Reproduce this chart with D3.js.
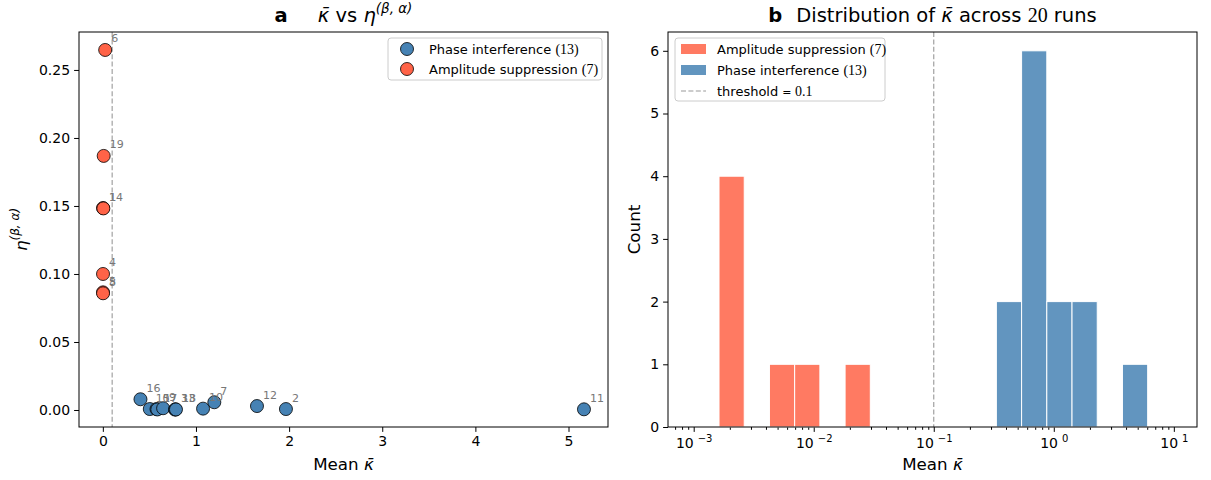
<!DOCTYPE html>
<html>
<head>
<meta charset="utf-8">
<script src="https://cdn.jsdelivr.net/npm/d3@7"></script>
<style>
body { margin: 0; background: #fff; }
text { font-family: "DejaVu Sans", sans-serif; }
</style>
</head>
<body>
<script>
// runs classed as phase interference
const phaseRuns = [16, 15, 0, 17, 9, 3, 13, 18, 10, 7, 12, 2, 11];
const phaseKappa = [0.404, 0.504, 0.576, 0.585, 0.647, 0.775, 0.779, 0.785, 1.076, 1.197, 1.655, 1.966, 5.166];
const phaseEta = [0.0079, 0.0007, 0.0007, 0.0004, 0.0013, 0.0003, 0.0005, 0.0004, 0.001, 0.0057, 0.0029, 0.0007, 0.0005];

// runs classed as amplitude suppression
const amplRuns = [6, 19, 14, 1, 4, 5, 8];
const amplKappa = [0.025, 0.009, 0.0021, 0.0055, 0.0019, 0.0017, 0.0023];
const amplEta = [0.2647, 0.1868, 0.1485, 0.1482, 0.1, 0.0865, 0.0858];

const threshold = 0.1;
const xTicksA = [0, 1, 2, 3, 4, 5];
const yTicksA = [0, 0.05, 0.1, 0.15, 0.2, 0.25];
const yTicksB = [0, 1, 2, 3, 4, 5, 6];
const decadesB = [-3, -2, -1, 0, 1];
// log-spaced histogram bins
const binLogMin = -2.789, binLogMax = 0.782, binCount = 17;

const blue = '#4682b4', red = '#ff6347';
const serif = '"Liberation Serif", serif';

const svg = d3.select('body').append('svg')
	.attr('width', 1211)
	.attr('height', 480);

const pA = {l: 79, r: 608, t: 32, b: 427};
const pB = {l: 668, r: 1197, t: 32, b: 427};

// ---------- panel a ----------
const xA = d3.scaleLinear().domain([-0.256, 5.424]).range([pA.l, pA.r]);
const yA = d3.scaleLinear().domain([-0.0125, 0.2779]).range([pA.b, pA.t]);

const gA = svg.append('g');

function styleAxis(g) {
	g.select('.domain').remove();
	g.selectAll('.tick line').attr('stroke', '#000').attr('stroke-width', 1);
	g.selectAll('.tick text').attr('font-family', serif).attr('font-size', 14).attr('fill', '#000');
}

gA.append('g')
	.attr('transform', `translate(0,${pA.b})`)
	.call(d3.axisBottom(xA).tickValues(xTicksA).tickSize(4.9).tickPadding(4).tickFormat(d3.format('d')))
	.call(styleAxis);

gA.append('g')
	.attr('transform', `translate(${pA.l},0)`)
	.call(d3.axisLeft(yA).tickValues(yTicksA).tickSize(4.9).tickPadding(4).tickFormat(d3.format('.2f')))
	.call(styleAxis);

gA.append('line')
	.attr('x1', xA(threshold)).attr('x2', xA(threshold))
	.attr('y1', pA.t).attr('y2', pA.b)
	.attr('stroke', '#999').attr('stroke-width', 1.1)
	.attr('stroke-dasharray', '5,2.4');

const phasePts = phaseRuns.map((r, i) => ({run: r, k: phaseKappa[i], e: phaseEta[i]}));
const amplPts = amplRuns.map((r, i) => ({run: r, k: amplKappa[i], e: amplEta[i]}));

[[phasePts, blue], [amplPts, red]].forEach(([pts, col]) => {
	gA.append('g').selectAll('circle')
		.data(pts)
		.enter()
		.append('circle')
		.attr('cx', d => xA(d.k))
		.attr('cy', d => yA(d.e))
		.attr('r', 6.5)
		.attr('fill', col)
		.attr('stroke', '#000')
		.attr('stroke-width', 0.8);
});

gA.append('g').selectAll('text')
	.data(phasePts.concat(amplPts))
	.enter()
	.append('text')
	.attr('x', d => xA(d.k) + 6)
	.attr('y', d => yA(d.e) - 7.5)
	.attr('font-family', serif)
	.attr('font-size', 11)
	.attr('fill', '#777')
	.text(d => d.run);

gA.append('rect')
	.attr('x', pA.l).attr('y', pA.t)
	.attr('width', pA.r - pA.l).attr('height', pA.b - pA.t)
	.attr('fill', 'none').attr('stroke', '#000').attr('stroke-width', 1);

// legend a
const legA = gA.append('g');
legA.append('rect')
	.attr('x', 388).attr('y', 38).attr('width', 214).attr('height', 42).attr('rx', 3)
	.attr('fill', '#fff').attr('fill-opacity', 0.8).attr('stroke', '#ccc');
[['Phase interference', '(13)', blue, 49], ['Amplitude suppression', '(7)', red, 69]].forEach(([lab, n, col, y]) => {
	legA.append('circle').attr('cx', 407).attr('cy', y).attr('r', 6.5)
		.attr('fill', col).attr('stroke', '#000').attr('stroke-width', 0.8);
	const t = legA.append('text').attr('x', 429).attr('y', y + 5).attr('font-size', 13);
	t.append('tspan').text(lab + ' ');
	t.append('tspan').attr('font-family', serif).attr('font-size', 14).text(n);
});

// title a
const tA = svg.append('text')
	.attr('x', (pA.l + pA.r) / 2).attr('y', 22)
	.attr('text-anchor', 'middle').attr('font-size', 19.5);
tA.append('tspan').attr('font-weight', 'bold').text('a');
tA.append('tspan').attr('dx', 30).attr('font-style', 'italic').text('κ̄');
tA.append('tspan').text(' vs ');
tA.append('tspan').attr('font-style', 'italic').text('η');
tA.append('tspan').attr('font-style', 'italic').attr('font-size', 13.5).attr('dy', -9).text('(β, α)');

// axis labels a
svg.append('text')
	.attr('x', (pA.l + pA.r) / 2).attr('y', 470)
	.attr('text-anchor', 'middle').attr('font-size', 16.7)
	.call(t => {
		t.append('tspan').text('Mean ');
		t.append('tspan').attr('font-style', 'italic').text('κ̄');
	});

svg.append('text')
	.attr('transform', `translate(27,${(pA.t + pA.b) / 2}) rotate(-90)`)
	.attr('text-anchor', 'middle').attr('font-size', 16.7)
	.call(t => {
		t.append('tspan').attr('font-style', 'italic').text('η');
		t.append('tspan').attr('font-style', 'italic').attr('font-size', 12).attr('dy', -8).text('(β, α)');
	});

// ---------- panel b ----------
const xB = d3.scaleLog().domain([10 ** -3.214, 10 ** 1.193]).range([pB.l, pB.r]);
const yB = d3.scaleLinear().domain([0, 6.3]).range([pB.b, pB.t]);

const edges = d3.range(binCount + 1).map(k => 10 ** (binLogMin + k * (binLogMax - binLogMin) / binCount));
const binner = d3.bin().domain([edges[0], edges[binCount] * 1.0001]).thresholds(edges.slice(1, -1));

const gB = svg.append('g');

const majors = decadesB.map(p => 10 ** p);
const minors = [];
decadesB.concat([-4]).forEach(p => d3.range(2, 10).forEach(m => {
	const v = m * 10 ** p;
	if (v > xB.domain()[0] && v < xB.domain()[1]) minors.push(v);
}));

gB.append('g')
	.attr('transform', `translate(0,${pB.b})`)
	.call(d3.axisBottom(xB).tickValues(minors).tickSize(2.8).tickFormat(''))
	.call(styleAxis);

gB.append('g')
	.attr('transform', `translate(0,${pB.b})`)
	.call(d3.axisBottom(xB).tickValues(majors).tickSize(4.9).tickPadding(6).tickFormat(''))
	.call(styleAxis)
	.call(g => g.selectAll('.tick text').each(function (d) {
		const t = d3.select(this);
		const p = Math.round(Math.log10(d));
		t.append('tspan').text('10');
		t.append('tspan').attr('font-size', 10).attr('dy', -6).attr('dx', 4).text(String(p).replace('-', '−'));
	}));

gB.append('g')
	.attr('transform', `translate(${pB.l},0)`)
	.call(d3.axisLeft(yB).tickValues(yTicksB).tickSize(4.9).tickPadding(4).tickFormat(d3.format('d')))
	.call(styleAxis);

[[amplKappa, red], [phaseKappa, blue]].forEach(([vals, col]) => {
	gB.append('g').selectAll('rect')
		.data(binner(vals).filter(b => b.length > 0))
		.enter()
		.append('rect')
		.attr('x', b => xB(b.x0))
		.attr('width', b => xB(b.x1) - xB(b.x0))
		.attr('y', b => yB(b.length))
		.attr('height', b => yB(0) - yB(b.length))
		.attr('fill', col)
		.attr('fill-opacity', 0.85)
		.attr('stroke', '#fff')
		.attr('stroke-width', 1);
});

gB.append('line')
	.attr('x1', xB(threshold)).attr('x2', xB(threshold))
	.attr('y1', pB.t).attr('y2', pB.b)
	.attr('stroke', '#999').attr('stroke-width', 1.1)
	.attr('stroke-dasharray', '5,2.4');

gB.append('rect')
	.attr('x', pB.l).attr('y', pB.t)
	.attr('width', pB.r - pB.l).attr('height', pB.b - pB.t)
	.attr('fill', 'none').attr('stroke', '#000').attr('stroke-width', 1);

// legend b
const legB = gB.append('g');
legB.append('rect')
	.attr('x', 675).attr('y', 38).attr('width', 210).attr('height', 63).attr('rx', 3)
	.attr('fill', '#fff').attr('fill-opacity', 0.8).attr('stroke', '#ccc');
[['Amplitude suppression', '(7)', red, 49], ['Phase interference', '(13)', blue, 70]].forEach(([lab, n, col, y]) => {
	legB.append('rect').attr('x', 681).attr('y', y - 5).attr('width', 25).attr('height', 10)
		.attr('fill', col).attr('fill-opacity', 0.85);
	const t = legB.append('text').attr('x', 717).attr('y', y + 5).attr('font-size', 13);
	t.append('tspan').text(lab + ' ');
	t.append('tspan').attr('font-family', serif).attr('font-size', 14).text(n);
});
legB.append('line')
	.attr('x1', 681).attr('x2', 706).attr('y1', 91).attr('y2', 91)
	.attr('stroke', '#999').attr('stroke-width', 1.1).attr('stroke-dasharray', '5,2.4');
legB.append('text').attr('x', 717).attr('y', 96).attr('font-size', 13)
	.call(t => {
		t.append('tspan').text('threshold ');
		t.append('tspan').attr('font-size', 11).text('= ');
		t.append('tspan').attr('font-family', serif).attr('font-size', 14).text(threshold);
	});

// title b
const tB = svg.append('text')
	.attr('x', (pB.l + pB.r) / 2).attr('y', 22)
	.attr('text-anchor', 'middle').attr('font-size', 19.5);
tB.append('tspan').attr('font-weight', 'bold').text('b');
tB.append('tspan').attr('dx', 14).text('Distribution of ');
tB.append('tspan').attr('font-style', 'italic').text('κ̄');
tB.append('tspan').text(' across ');
tB.append('tspan').attr('font-family', serif).attr('font-size', 20).text(phaseRuns.length + amplRuns.length);
tB.append('tspan').text(' runs');

svg.append('text')
	.attr('x', (pB.l + pB.r) / 2).attr('y', 470)
	.attr('text-anchor', 'middle').attr('font-size', 16.7)
	.call(t => {
		t.append('tspan').text('Mean ');
		t.append('tspan').attr('font-style', 'italic').text('κ̄');
	});

svg.append('text')
	.attr('transform', `translate(640,${(pB.t + pB.b) / 2}) rotate(-90)`)
	.attr('text-anchor', 'middle').attr('font-size', 16.7)
	.text('Count');
</script>
</body>
</html>
